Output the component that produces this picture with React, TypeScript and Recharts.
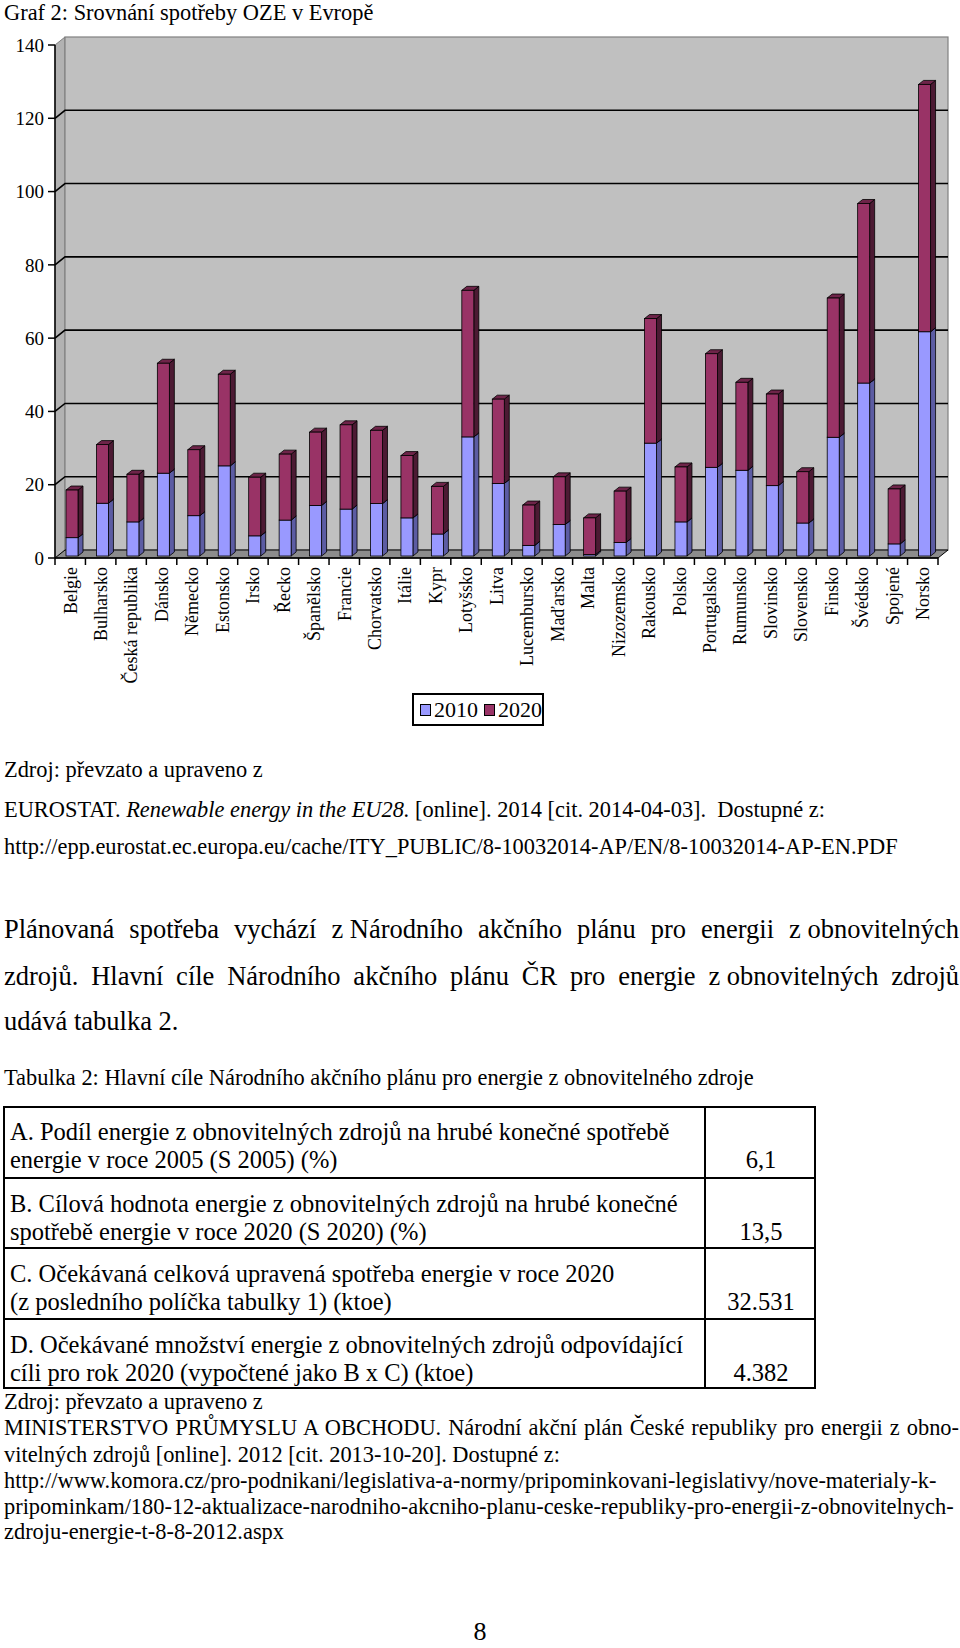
import React from 'react';
import { BarChart, Bar, XAxis, YAxis, Legend, ReferenceArea, ReferenceLine } from 'recharts';

const countries = [
  'Belgie', 'Bulharsko', 'Česká republika', 'Dánsko', 'Německo', 'Estonsko', 'Irsko', 'Řecko',
  'Španělsko', 'Francie', 'Chorvatsko', 'Itálie', 'Kypr', 'Lotyšsko', 'Litva', 'Lucembursko',
  'Maďarsko', 'Malta', 'Nizozemsko', 'Rakousko', 'Polsko', 'Portugalsko', 'Rumunsko', 'Slovinsko',
  'Slovensko', 'Finsko', 'Švédsko', 'Spojené', 'Norsko',
];
const values2010 = [5.0, 14.4, 9.3, 22.6, 11.0, 24.6, 5.5, 9.8, 13.8, 12.8, 14.3, 10.4, 6.0, 32.5, 19.8, 2.9, 8.6, 0.4, 3.7, 30.8, 9.3, 24.2, 23.4, 19.2, 9.0, 32.4, 47.2, 3.3, 61.2];
const values2020 = [13, 16, 13, 30, 18, 25, 16, 18, 20, 23, 20, 17, 13, 40, 23, 11, 13, 10, 14, 34, 15, 31, 24, 25, 14, 38, 49, 15, 67.5];
const yTicks = [0, 20, 40, 60, 80, 100, 120, 140];
const gridValues = [20, 40, 60, 80, 100, 120];

const data = countries.map((name, i) => ({ name, y2010: values2010[i], y2020: values2020[i] }));

const SERIF = '"Liberation Serif", "Times New Roman", serif';
const WALL_DX = 10;
const WALL_DY = 8;

// 3D bar: front face, side and top
const bar3d = (front: string, side: string, top: string) => (props: any) => {
  const { x, y, width, height } = props;
  if (!height || height <= 0) return <g />;
  const fx = x + 2;
  const fy = y - 2;
  const dx = 5;
  const dy = 4;
  return (
    <g>
      <polygon
        points={`${fx + width},${fy} ${fx + width + dx},${fy - dy} ${fx + width + dx},${fy + height - dy} ${fx + width},${fy + height}`}
        fill={side} stroke="#000" strokeWidth={0.8}
      />
      <polygon
        points={`${fx},${fy} ${fx + dx},${fy - dy} ${fx + width + dx},${fy - dy} ${fx + width},${fy}`}
        fill={top} stroke="#000" strokeWidth={0.8}
      />
      <rect x={fx} y={fy} width={width} height={height} fill={front} stroke="#000" strokeWidth={0.8} />
    </g>
  );
};

// back wall, left wall and floor
const Walls = (props: any) => {
  const { x, y, width, height } = props;
  const r = x + width;
  const b = y + height;
  return (
    <g>
      <polygon points={`${x},${y} ${x + WALL_DX},${y - WALL_DY} ${x + WALL_DX},${b - WALL_DY} ${x},${b}`} fill="#b2b2b2" stroke="#808080" strokeWidth={1} />
      <rect x={x + WALL_DX} y={y - WALL_DY} width={width} height={height} fill="#c0c0c0" stroke="#808080" strokeWidth={1.2} />
      <polygon points={`${x},${b} ${x + WALL_DX},${b - WALL_DY} ${r + WALL_DX},${b - WALL_DY} ${r},${b}`} fill="#8c8c8c" stroke="#000" strokeWidth={1} />
    </g>
  );
};

const GridLine3D = (props: any) => {
  const { x1, y1, x2, y2 } = props;
  return (
    <path
      d={`M${x1},${y1} L${x1 + WALL_DX},${y1 - WALL_DY} L${x2 + WALL_DX},${y2 - WALL_DY}`}
      stroke="#000" strokeWidth={1.6} fill="none"
    />
  );
};

const CountryTick = (props: any) => {
  const { x, y, payload, index, visibleTicksCount } = props;
  const half = payload && payload.offset ? payload.offset : 15.2;
  return (
    <g>
      <line x1={x - half} y1={y} x2={x - half} y2={y + 7} stroke="#000" strokeWidth={1.5} />
      {index === visibleTicksCount - 1 && (
        <line x1={x + half} y1={y} x2={x + half} y2={y + 7} stroke="#000" strokeWidth={1.5} />
      )}
      <text
        transform={`translate(${x},${y + 9}) rotate(-90)`}
        textAnchor="end" dy="0.35em" fontSize={18} fontFamily={SERIF} fill="#000"
      >
        {payload.value}
      </text>
    </g>
  );
};

const LegendBox = () => (
  <div style={{
    width: 122, height: 29, border: '2px solid #000', background: '#fff', display: 'flex',
    alignItems: 'center', fontFamily: SERIF, fontSize: 22, color: '#000', paddingLeft: 6,
  }}>
    <span style={{ width: 10, height: 10, background: '#9999ff', border: '1px solid #000', marginRight: 3 }} />
    <span style={{ marginRight: 6 }}>2010</span>
    <span style={{ width: 10, height: 10, background: '#993366', border: '1px solid #000', marginRight: 3 }} />
    <span>2020</span>
  </div>
);

const Line = ({ base, size, left = 4, width, justify, children, center }: any) => (
  <div style={{
    position: 'absolute', left, top: base - 0.8375 * size, width, fontSize: size, lineHeight: `${size}px`,
    whiteSpace: justify ? 'normal' : 'pre', textAlign: justify ? 'justify' : center ? 'center' : 'left',
    textAlignLast: justify ? 'justify' : undefined,
  } as any}>
    {children}
  </div>
);

const rows = [
  ['A. Podíl energie z obnovitelných zdrojů na hrubé konečné spotřebě', 'energie v roce 2005 (S 2005) (%)', '6,1'],
  ['B. Cílová hodnota energie z obnovitelných zdrojů na hrubé konečné', 'spotřebě energie v roce 2020 (S 2020) (%)', '13,5'],
  ['C. Očekávaná celková upravená spotřeba energie v roce 2020', '(z posledního políčka tabulky 1) (ktoe)', '32.531'],
  ['D. Očekávané množství energie z obnovitelných zdrojů odpovídající', 'cíli pro rok 2020 (vypočtené jako B x C) (ktoe)', '4.382'],
];
const rowTops = [1106, 1178, 1248, 1319, 1389];

export default function App() {
  return (
    <div style={{
      position: 'absolute', left: 0, top: 0, width: 960, height: 1648, background: '#fff',
      overflow: 'hidden', fontFamily: SERIF, color: '#000',
    }}>
      <Line base={21} size={22.4}>Graf 2: Srovnání spotřeby OZE v Evropě</Line>

      <div style={{ position: 'absolute', left: 0, top: 0 }}>
        <BarChart width={960} height={760} data={data} margin={{ top: 45, right: 22, left: 10, bottom: 52 }} barSize={12}>
          <ReferenceArea y1={0} y2={140} shape={<Walls />} ifOverflow="visible" zIndex={-300} />
          {gridValues.map((v) => (
            <ReferenceLine key={v} y={v} shape={GridLine3D} ifOverflow="visible" zIndex={-200} />
          ))}
          <XAxis
            dataKey="name" interval={0} height={150} tickSize={0} tickMargin={0}
            tick={<CountryTick />} axisLine={{ stroke: '#000', strokeWidth: 1.5 }} tickLine={false}
          />
          <YAxis
            width={45} domain={[0, 140]} ticks={yTicks} tickSize={7} tickMargin={4}
            axisLine={{ stroke: '#000', strokeWidth: 1.5 }} tickLine={{ stroke: '#000', strokeWidth: 1.5 }}
            tick={{ fill: '#000', fontSize: 19, fontFamily: SERIF }}
          />
          <Bar dataKey="y2010" stackId="a" isAnimationActive={false} shape={bar3d('#9999ff', '#5c5ca3', '#7a7acc')} />
          <Bar dataKey="y2020" stackId="a" isAnimationActive={false} shape={bar3d('#993366', '#4c1a33', '#6e2449')} />
          <Legend
            layout="horizontal" verticalAlign="middle" align="center"
            wrapperStyle={{ left: 412, top: 693, width: 126, height: 33 }}
            content={() => <LegendBox />}
          />
        </BarChart>
      </div>

      <Line base={778} size={22.4}>Zdroj: převzato a upraveno z</Line>
      <Line base={818} size={22.4}>
        {'EUROSTAT. '}<i>Renewable energy in the EU28.</i>{' [online]. 2014 [cit. 2014-04-03].  Dostupné z:'}
      </Line>
      <Line base={855} size={22.4}>http://epp.eurostat.ec.europa.eu/cache/ITY_PUBLIC/8-10032014-AP/EN/8-10032014-AP-EN.PDF</Line>

      <Line base={938} size={26.5} width={955} justify>
        Plánovaná spotřeba vychází <span style={{ display: 'inline-block' }}>z Národního</span> akčního plánu pro energii <span style={{ display: 'inline-block' }}>z obnovitelných</span>
      </Line>
      <Line base={985} size={26.5} width={955} justify>
        zdrojů. Hlavní cíle Národního akčního plánu ČR pro energie <span style={{ display: 'inline-block' }}>z obnovitelných</span> zdrojů
      </Line>
      <Line base={1030} size={26.5}>udává tabulka 2.</Line>

      <Line base={1086} size={22.4}>Tabulka 2: Hlavní cíle Národního akčního plánu pro energie z obnovitelného zdroje</Line>

      <div style={{ position: 'absolute', left: 3, top: 1106, width: 813, height: 283, border: '2px solid #000', boxSizing: 'border-box' }} />
      <div style={{ position: 'absolute', left: 704, top: 1106, width: 2, height: 283, background: '#000' }} />
      {rowTops.slice(1, 4).map((t) => (
        <div key={t} style={{ position: 'absolute', left: 3, top: t - 1, width: 813, height: 2, background: '#000' }} />
      ))}
      {rows.map((r, i) => (
        <React.Fragment key={i}>
          <Line base={rowTops[i] + 35} size={24.5} left={10}>{r[0]}</Line>
          <Line base={rowTops[i] + 63} size={24.5} left={10}>{r[1]}</Line>
          <Line base={rowTops[i] + 63} size={24.5} left={706} width={110} center>{r[2]}</Line>
        </React.Fragment>
      ))}

      <Line base={1410} size={22.4}>Zdroj: převzato a upraveno z</Line>
      <Line base={1436} size={22.4} width={955} justify>
        MINISTERSTVO PRŮMYSLU A OBCHODU. Národní akční plán České republiky pro energii z obno-
      </Line>
      <Line base={1463} size={22.4}>vitelných zdrojů [online]. 2012 [cit. 2013-10-20]. Dostupné z:</Line>
      <Line base={1489} size={22.4}>http://www.komora.cz/pro-podnikani/legislativa-a-normy/pripominkovani-legislativy/nove-materialy-k-</Line>
      <Line base={1515} size={22.4}>pripominkam/180-12-aktualizace-narodniho-akcniho-planu-ceske-republiky-pro-energii-z-obnovitelnych-</Line>
      <Line base={1540} size={22.4}>zdroju-energie-t-8-8-2012.aspx</Line>

      <Line base={1641} size={26} left={0} width={960} center>8</Line>
    </div>
  );
}
